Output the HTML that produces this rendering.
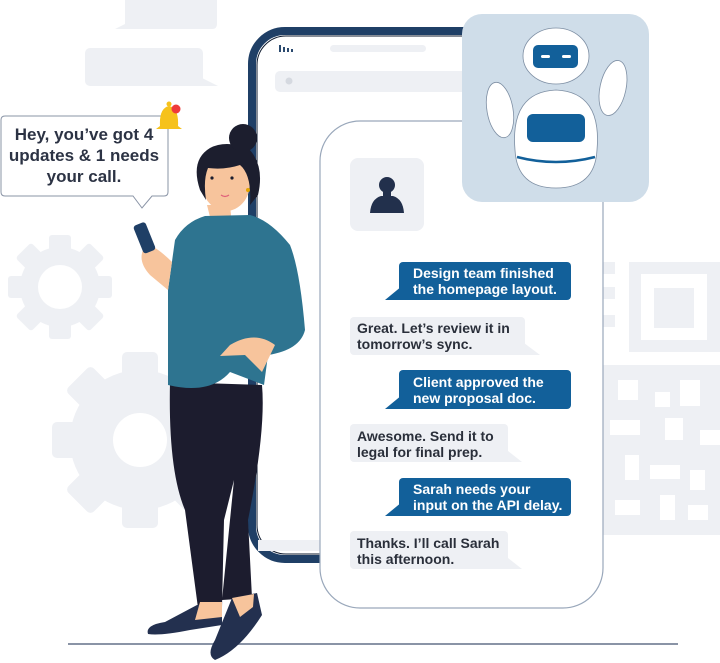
<!DOCTYPE html>
<html><head><meta charset="utf-8"><style>
html,body{margin:0;padding:0;background:#fff;}
svg{display:block}
text{font-family:"Liberation Sans","DejaVu Sans",sans-serif;}
</style></head><body>
<svg width="720" height="663" viewBox="0 0 720 663" xmlns="http://www.w3.org/2000/svg">
<!-- background bubbles -->
<path d="M128 0 H217 V24 Q217 29 212 29 H115 L125 24 V0Z" fill="#eef0f4"/>
<rect x="85" y="48" width="118" height="38" rx="5" fill="#eef0f4"/>
<path d="M198 76 L218 86 H190Z" fill="#eef0f4"/>
<!-- gears -->
<g fill="#eef0f4">
<circle cx="60" cy="287" r="40"/>
<g transform="translate(60 287)">
<rect x="-11" y="-52" width="22" height="104" rx="3"/>
<rect x="-11" y="-52" width="22" height="104" rx="3" transform="rotate(45)"/>
<rect x="-11" y="-52" width="22" height="104" rx="3" transform="rotate(90)"/>
<rect x="-11" y="-52" width="22" height="104" rx="3" transform="rotate(135)"/>
</g>
<circle cx="140" cy="440" r="70"/>
<g transform="translate(140 440)">
<rect x="-18" y="-88" width="36" height="176" rx="5"/>
<rect x="-18" y="-88" width="36" height="176" rx="5" transform="rotate(45)"/>
<rect x="-18" y="-88" width="36" height="176" rx="5" transform="rotate(90)"/>
<rect x="-18" y="-88" width="36" height="176" rx="5" transform="rotate(135)"/>
</g>
</g>
<circle cx="60" cy="287" r="22" fill="#fff"/>
<circle cx="140" cy="440" r="27" fill="#fff"/>
<!-- QR blocks -->
<g fill="#eef0f4">
<rect x="629" y="262" width="91" height="90"/>
<rect x="603" y="262" width="12" height="12"/><rect x="603" y="287" width="12" height="12"/><rect x="603" y="315" width="12" height="12"/>
<rect x="603" y="365" width="117" height="170"/>
</g>
<rect x="641" y="274" width="66" height="66" fill="#fff"/>
<rect x="654" y="288" width="40" height="40" fill="#eef0f4"/>
<g fill="#fff">
<rect x="618" y="380" width="20" height="20"/><rect x="655" y="392" width="15" height="15"/><rect x="680" y="380" width="20" height="26"/>
<rect x="610" y="420" width="30" height="15"/><rect x="665" y="418" width="18" height="22"/><rect x="700" y="430" width="20" height="15"/>
<rect x="625" y="455" width="14" height="25"/><rect x="650" y="465" width="30" height="14"/><rect x="690" y="470" width="15" height="20"/>
<rect x="615" y="500" width="25" height="15"/><rect x="660" y="495" width="15" height="25"/><rect x="688" y="505" width="20" height="15"/>
</g>
<!-- back phone -->
<rect x="252" y="31" width="280" height="528" rx="33" fill="#fff" stroke="#1f3f66" stroke-width="8"/>
<rect x="257" y="36" width="270" height="518" rx="29" fill="none" stroke="#0e1a2e" stroke-width="1"/>
<rect x="258" y="540" width="260" height="11" fill="#eef0f4"/>
<g fill="#2b4a6f"><rect x="279" y="45" width="2" height="7"/><rect x="283" y="47" width="2" height="5"/><rect x="287" y="48" width="2" height="4"/><rect x="291" y="49" width="2" height="3"/></g>
<rect x="330" y="45" width="96" height="7" rx="3.5" fill="#eef0f4"/>
<rect x="275" y="71" width="230" height="21" rx="5" fill="#eef0f4"/>
<circle cx="289" cy="81" r="3.5" fill="#d5d9e0"/>
<!-- front phone -->
<rect x="320" y="121" width="283" height="487" rx="40" fill="#fff" stroke="#9aa8bb" stroke-width="1.2"/>
<rect x="350" y="158" width="74" height="73" rx="8" fill="#eef0f4"/>
<circle cx="387" cy="185" r="8" fill="#22304c"/>
<path d="M370 213 Q371 199 381 196 H393 Q403 199 404 213Z" fill="#22304c"/>
<rect x="383" y="190" width="8" height="9" fill="#22304c"/>
<!-- chats -->
<g font-size="14" font-weight="bold">
<rect x="399" y="262" width="172" height="38" rx="4" fill="#12609a"/><path d="M402 286 L385 300 H410Z" fill="#12609a"/>
<text x="413" y="278" fill="#fff">Design team finished</text><text x="413" y="294" fill="#fff">the homepage layout.</text>
<rect x="350" y="317" width="175" height="38" rx="4" fill="#eef0f4"/><path d="M520 340 L540 355 H510Z" fill="#eef0f4"/>
<text x="357" y="333" fill="#2a2f3a">Great. Let’s review it in</text><text x="357" y="349" fill="#2a2f3a">tomorrow’s sync.</text>
<rect x="399" y="370" width="172" height="39" rx="4" fill="#12609a"/><path d="M402 395 L385 409 H410Z" fill="#12609a"/>
<text x="413" y="387" fill="#fff">Client approved the</text><text x="413" y="403" fill="#fff">new proposal doc.</text>
<rect x="350" y="424" width="158" height="38" rx="4" fill="#eef0f4"/><path d="M503 447 L522 462 H495Z" fill="#eef0f4"/>
<text x="357" y="441" fill="#2a2f3a">Awesome. Send it to</text><text x="357" y="457" fill="#2a2f3a">legal for final prep.</text>
<rect x="399" y="478" width="172" height="38" rx="4" fill="#12609a"/><path d="M402 502 L385 516 H410Z" fill="#12609a"/>
<text x="413" y="494" fill="#fff">Sarah needs your</text><text x="413" y="510" fill="#fff">input on the API delay.</text>
<rect x="350" y="531" width="158" height="38" rx="4" fill="#eef0f4"/><path d="M503 554 L522 569 H495Z" fill="#eef0f4"/>
<text x="357" y="548" fill="#2a2f3a">Thanks. I’ll call Sarah</text><text x="357" y="564" fill="#2a2f3a">this afternoon.</text>
</g>
<!-- robot -->
<rect x="462" y="14" width="187" height="188" rx="20" fill="#cfdde9"/>
<g fill="#fff" stroke="#7d8ea3" stroke-width="0.8">
<ellipse cx="500" cy="110" rx="13" ry="28" transform="rotate(-10 500 110)"/>
<ellipse cx="613" cy="88" rx="13" ry="28" transform="rotate(12 613 88)"/>
<ellipse cx="556" cy="56" rx="33" ry="28"/>
<path d="M515 150 Q510 92 556 90 Q602 92 597 150 Q595 188 556 188 Q517 188 515 150Z"/>
</g>
<rect x="533" y="45" width="45" height="23" rx="5" fill="#12609a"/>
<rect x="541" y="55" width="9" height="3" rx="1.5" fill="#fff"/><rect x="562" y="55" width="9" height="3" rx="1.5" fill="#fff"/>
<rect x="527" y="114" width="58" height="28" rx="6" fill="#12609a"/>
<path d="M517 157 Q556 167 595 157" fill="none" stroke="#12609a" stroke-width="2.5"/>
<!-- ground -->
<rect x="68" y="643" width="610" height="2" fill="#8a94a6"/>
<!-- woman -->
<path d="M170 382 Q168 470 185 510 L198 608 L222 607 L224 520 L234 480 L222 600 L252 598 L248 520 Q266 430 262 385Z" fill="#1c1c2e"/>
<path d="M197 605 L222 605 L222 625 L190 630 Q160 636 148 634 Q145 625 165 622Z" fill="#23304f"/>
<path d="M232 598 L257 593 L262 615 Q240 650 215 660 Q206 655 215 640Z" fill="#23304f"/>
<path d="M200 602 L222 602 L222 617 L195 620Z" fill="#f7c49c"/>
<path d="M232 598 L254 594 L253 607 L240 617Z" fill="#f7c49c"/>
<path d="M207 205 L230 205 L232 225 L212 225Z" fill="#f7c49c"/>
<path d="M205 216 Q185 222 175 240 L168 290 L168 385 Q210 395 230 372 L264 385 L268 355 Q300 350 305 330 Q300 270 290 245 Q270 220 250 215Z" fill="#2e7490"/>
<path d="M230 345 Q255 330 275 345 L262 372 L245 355 L220 356Z" fill="#f7c49c"/>
<path d="M143 250 Q138 262 150 275 L168 290 L172 262 Q160 250 150 245Z" fill="#f7c49c"/>
<rect x="138" y="223" width="13" height="30" rx="3" transform="rotate(-22 144 238)" fill="#1f3f66"/>
<ellipse cx="226" cy="183" rx="24" ry="28" fill="#f7c49c"/>
<path d="M200 190 Q190 160 210 148 Q225 140 248 148 Q265 165 258 195 L250 205 Q252 175 240 165 Q225 170 208 168 Q203 180 206 200Z" fill="#1c1e2e"/>
<circle cx="243" cy="138" r="14" fill="#1c1e2e"/>
<circle cx="212" cy="178" r="1.6" fill="#1c1e2e"/><circle cx="232" cy="178" r="1.6" fill="#1c1e2e"/>
<path d="M221 195 Q225 198 229 195" fill="none" stroke="#e0607a" stroke-width="1.2"/>
<circle cx="248" cy="190" r="2" fill="#e5a400"/>
<!-- speech bubble -->
<path d="M5 116 H164 Q168 116 168 120 V192 Q168 196 164 196 H152 L142 208 L133 196 H5 Q1 196 1 192 V120 Q1 116 5 116Z" fill="#fff" stroke="#8a94a6" stroke-width="1"/>
<g font-size="17" font-weight="bold" fill="#2c3344" text-anchor="middle">
<text x="84" y="140">Hey, you’ve got 4</text>
<text x="84" y="161">updates &amp; 1 needs</text>
<text x="84" y="182">your call.</text>
</g>
<!-- bell -->
<path d="M160 126 Q159 108 169 106 Q179 108 178 126 L182 129 H156Z" fill="#f6c21c"/>
<circle cx="169" cy="104" r="2.5" fill="#f6c21c"/>
<circle cx="176" cy="109" r="4.5" fill="#ef3a3a"/>
</svg>
</body></html>
